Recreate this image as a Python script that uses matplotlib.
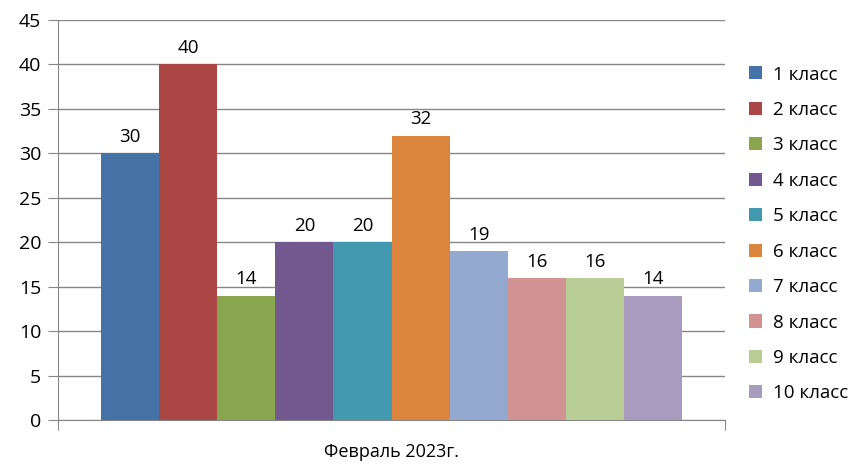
import matplotlib.pyplot as plt
import numpy as np

plt.rcParams['font.family'] = ['Open Sans', 'DejaVu Sans']

# chart data
classes = ['1 класс', '2 класс', '3 класс', '4 класс', '5 класс',
           '6 класс', '7 класс', '8 класс', '9 класс', '10 класс']
values = [30, 40, 14, 20, 20, 32, 19, 16, 16, 14]
colors = ['#4572A7', '#AA4643', '#89A54E', '#71588F', '#4198AF',
          '#DB843D', '#93A9CF', '#D19392', '#B9CD96', '#A99BBD']
category = 'Февраль 2023г.'
yticks = np.arange(0, 50, 5)

fig = plt.figure(figsize=(8.57, 4.65), dpi=100)
ax = fig.add_axes([58 / 857, 1 - 420 / 465, 667 / 857, 400 / 465])

grid_c = '#868686'
n = len(values)
group_w = 581 / 667
w = group_w / n
xs = -group_w / 2 + w / 2 + np.arange(n) * w

for x, v, c, lab in zip(xs, values, colors, classes):
    ax.bar(x, v, width=w, color=c, label=lab, zorder=3)
    ax.text(x, v + 0.8, str(v), ha='center', va='bottom', fontsize=13.5, color='#000000')

ax.set_xlim(-0.5, 0.5)
ax.set_ylim(0, 45)
ax.set_yticks(yticks)
ax.tick_params(axis='y', length=7, color=grid_c, labelsize=14, pad=5)
ax.yaxis.grid(True, color=grid_c, linewidth=1, zorder=0)
ax.set_xticks([-0.5, 0.5])
ax.set_xticklabels(['', ''])
ax.tick_params(axis='x', length=7, color=grid_c)
ax.set_xlabel(category, fontsize=13, labelpad=6)

for s in ['top', 'right']:
    ax.spines[s].set_visible(False)
for s in ['left', 'bottom']:
    ax.spines[s].set_color(grid_c)

ax.legend(loc='upper left', bbox_to_anchor=(1.025, 0.905), frameon=False,
          fontsize=13.5, handlelength=0.7, handleheight=0.7,
          handletextpad=0.55, labelspacing=0.93, borderaxespad=0)

fig.savefig('out.png', dpi=100)
